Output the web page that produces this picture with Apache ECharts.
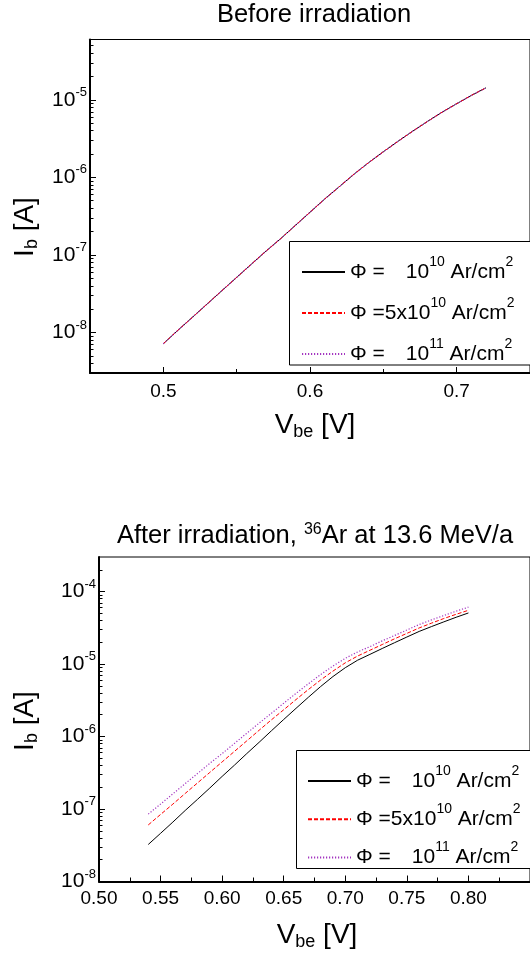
<!DOCTYPE html>
<html>
<head>
<meta charset="utf-8">
<script src="https://cdn.jsdelivr.net/npm/echarts@6/dist/echarts.min.js"></script>
<style>
  html, body { margin: 0; padding: 0; background: #fff; }
  #chart { width: 530px; height: 956px; }
</style>
</head>
<body>
<div id="chart"></div>
<script>
const FONT = 'Arial, "Liberation Sans", Helvetica, sans-serif';

// Base current I_b [A] versus V_be [V] before irradiation
const vbeBefore = [0.50, 0.51, 0.52, 0.53, 0.54, 0.55, 0.56, 0.57, 0.58, 0.59, 0.60, 0.61,
                   0.62, 0.63, 0.64, 0.65, 0.66, 0.67, 0.68, 0.69, 0.70, 0.71, 0.72];
const ibBefore1e10 = [7.16e-9, 1.07e-8, 1.58e-8, 2.34e-8, 3.47e-8, 5.13e-8, 7.59e-8, 1.12e-7,
                      1.62e-7, 2.40e-7, 3.55e-7, 5.25e-7, 7.59e-7, 1.10e-6, 1.55e-6, 2.14e-6,
                      2.92e-6, 3.94e-6, 5.25e-6, 6.92e-6, 8.91e-6, 1.14e-5, 1.43e-5];
const ibBefore5e10 = [7.16e-9, 1.07e-8, 1.58e-8, 2.34e-8, 3.47e-8, 5.13e-8, 7.59e-8, 1.12e-7,
                      1.62e-7, 2.40e-7, 3.55e-7, 5.25e-7, 7.59e-7, 1.10e-6, 1.55e-6, 2.14e-6,
                      2.92e-6, 3.94e-6, 5.25e-6, 6.92e-6, 8.91e-6, 1.14e-5, 1.43e-5];
const ibBefore1e11 = [7.16e-9, 1.07e-8, 1.58e-8, 2.34e-8, 3.47e-8, 5.13e-8, 7.59e-8, 1.12e-7,
                      1.62e-7, 2.40e-7, 3.55e-7, 5.25e-7, 7.59e-7, 1.10e-6, 1.55e-6, 2.14e-6,
                      2.92e-6, 3.94e-6, 5.25e-6, 6.92e-6, 8.91e-6, 1.14e-5, 1.43e-5];

// Base current after irradiation with 36Ar ions
const vbeAfter = [0.54, 0.55, 0.56, 0.57, 0.58, 0.59, 0.60, 0.61, 0.62, 0.63, 0.64, 0.65, 0.66,
                  0.67, 0.68, 0.69, 0.70, 0.71, 0.72, 0.73, 0.74, 0.75, 0.76, 0.77, 0.78, 0.79, 0.80];
const ibAfter1e10 = [3.24e-8, 4.62e-8, 6.61e-8, 9.55e-8, 1.36e-7, 1.95e-7, 2.82e-7, 4.03e-7,
                     5.82e-7, 8.32e-7, 1.20e-6, 1.72e-6, 2.45e-6, 3.48e-6, 4.90e-6, 6.73e-6,
                     8.91e-6, 1.13e-5, 1.36e-5, 1.64e-5, 1.97e-5, 2.36e-5, 2.82e-5, 3.29e-5,
                     3.82e-5, 4.42e-5, 5.07e-5];
const ibAfter5e10 = [6.03e-8, 8.41e-8, 1.17e-7, 1.64e-7, 2.29e-7, 3.20e-7, 4.47e-7, 6.24e-7,
                     8.71e-7, 1.22e-6, 1.70e-6, 2.34e-6, 3.24e-6, 4.45e-6, 6.03e-6, 8.00e-6,
                     1.04e-5, 1.29e-5, 1.55e-5, 1.86e-5, 2.23e-5, 2.65e-5, 3.15e-5, 3.67e-5,
                     4.25e-5, 4.86e-5, 5.52e-5];
const ibAfter1e11 = [8.51e-8, 1.17e-7, 1.62e-7, 2.24e-7, 3.09e-7, 4.27e-7, 5.82e-7, 8.04e-7,
                     1.11e-6, 1.53e-6, 2.09e-6, 2.88e-6, 3.94e-6, 5.35e-6, 7.16e-6, 9.40e-6,
                     1.20e-5, 1.47e-5, 1.74e-5, 2.09e-5, 2.48e-5, 2.95e-5, 3.51e-5, 4.07e-5,
                     4.68e-5, 5.37e-5, 6.10e-5];

// Fluence names (legend entries)
const fluenceNames = ['Φ = 1e10 Ar/cm2', 'Φ = 5e10 Ar/cm2', 'Φ = 1e11 Ar/cm2'];

// Axis tick values
const xTicksTop = [0.5, 0.6, 0.7];
const xMinorTop = [0.55, 0.65];
const yDecadesTop = [1e-8, 1e-7, 1e-6, 1e-5];
const yDecadesBottom = [1e-8, 1e-7, 1e-6, 1e-5, 1e-4];
const minorMultipliers = [2, 3, 4, 5, 6, 7, 8, 9];

const yRangeTop = [3e-9, 6e-5];
const yRangeBottom = [1e-8, 3e-4];

function minorLogTicks(range) {
  const out = [];
  for (let e = -10; e <= -3; e++) {
    minorMultipliers.forEach(m => {
      const v = m * Math.pow(10, e);
      if (v >= range[0] * 0.999 && v <= range[1] * 1.001) out.push(v);
    });
  }
  return out;
}

const zip = (xs, ys) => xs.map((x, i) => [x, ys[i]]);

const lineStyles = [
  { color: '#000000', width: 1, type: 'solid' },
  { color: '#ff0000', width: 1, type: [4, 2] },
  { color: '#a335c0', width: 1.2, type: [1.2, 1.8] }
];

const richLegend = {
  t: { fontSize: 21, fontFamily: FONT, color: '#000', lineHeight: 34 },
  g: { width: 21, lineHeight: 34 },
  s: { fontSize: 14, fontFamily: FONT, color: '#000', lineHeight: 12, verticalAlign: 'top' }
};
const legendText = {
  'Φ = 1e10 Ar/cm2': '{t|Φ =}{g| }{t|10}{s|10}{t| Ar/cm}{s|2}',
  'Φ = 5e10 Ar/cm2': '{t|Φ =5x10}{s|10}{t| Ar/cm}{s|2}',
  'Φ = 1e11 Ar/cm2': '{t|Φ =}{g| }{t|10}{s|11}{t| Ar/cm}{s|2}'
};

const richPow = {
  m: { fontSize: 21, fontFamily: FONT, color: '#000', lineHeight: 28 },
  e: { fontSize: 13, fontFamily: FONT, color: '#000', lineHeight: 12, verticalAlign: 'top' }
};
const powLabel = v => '{m|10}{e|' + Math.round(Math.log10(v)) + '}';

function majorY(grid, range, decades) {
  return {
    type: 'log', logBase: 10, gridIndex: grid, min: range[0], max: range[1], position: 'left',
    axisLine: { show: true, onZero: false, lineStyle: { color: '#000', width: 2 } },
    axisTick: { show: true, inside: true, length: 6, customValues: decades, lineStyle: { color: '#000', width: 1 } },
    axisLabel: { show: true, margin: 3, customValues: decades, formatter: powLabel, rich: richPow },
    splitLine: { show: false }, minorTick: { show: false }
  };
}
function minorY(grid, range) {
  return {
    type: 'log', logBase: 10, gridIndex: grid, min: range[0], max: range[1], position: 'left',
    axisLine: { show: false },
    axisTick: { show: true, inside: true, length: 3.5, customValues: minorLogTicks(range), lineStyle: { color: '#000', width: 1 } },
    axisLabel: { show: false }, splitLine: { show: false }
  };
}

const seriesTop = [ibBefore1e10, ibBefore5e10, ibBefore1e11].map((ys, i) => ({
  name: fluenceNames[i], type: 'line', xAxisIndex: 0, yAxisIndex: 0,
  data: zip(vbeBefore, ys), symbol: 'none', showSymbol: false, smooth: false,
  lineStyle: lineStyles[i], itemStyle: { color: lineStyles[i].color }
}));
const seriesBottom = [ibAfter1e10, ibAfter5e10, ibAfter1e11].map((ys, i) => ({
  name: fluenceNames[i], type: 'line', xAxisIndex: 2, yAxisIndex: 2,
  data: zip(vbeAfter, ys), symbol: 'none', showSymbol: false, smooth: false,
  lineStyle: lineStyles[i], itemStyle: { color: lineStyles[i].color }
}));

const subRich = {
  m: { fontSize: 28, fontFamily: FONT, color: '#000', lineHeight: 30, verticalAlign: 'top' },
  s: { fontSize: 18, fontFamily: FONT, color: '#000', lineHeight: 8, verticalAlign: 'bottom' }
};

const legendCommon = {
  data: fluenceNames, orient: 'vertical', padding: 0,
  itemWidth: 43, itemHeight: 14, selectedMode: false,
  itemStyle: { color: 'rgba(0,0,0,0)', borderColor: 'rgba(0,0,0,0)', borderWidth: 0, opacity: 0 },
  formatter: n => legendText[n], textStyle: { rich: richLegend }
};

const chart = echarts.init(document.getElementById('chart'), null, { renderer: 'canvas' });
chart.setOption({
  animation: false,
  backgroundColor: '#fff',
  textStyle: { fontFamily: FONT, color: '#000' },
  grid: [
    { left: 90, top: 39.5, width: 447, height: 333.5, show: true, borderColor: '#000', borderWidth: 1, containLabel: false },
    { left: 99, top: 557, width: 468, height: 324.5, show: true, borderColor: '#000', borderWidth: 1, containLabel: false }
  ],
  xAxis: [
    {
      type: 'value', gridIndex: 0, min: 0.45, max: 0.75, position: 'bottom',
      axisLine: { show: true, onZero: false, lineStyle: { color: '#000', width: 2 } },
      axisTick: { show: true, inside: true, length: 6, customValues: xTicksTop, lineStyle: { color: '#000', width: 1 } },
      axisLabel: { show: true, margin: 9, customValues: xTicksTop, fontSize: 19, fontFamily: FONT, color: '#000',
                   formatter: v => v.toFixed(1) },
      splitLine: { show: false }
    },
    {
      type: 'value', gridIndex: 0, min: 0.45, max: 0.75, position: 'bottom',
      axisLine: { show: false, onZero: false },
      axisTick: { show: true, inside: true, length: 4, customValues: xMinorTop, lineStyle: { color: '#000', width: 1 } },
      axisLabel: { show: false }, splitLine: { show: false }
    },
    {
      type: 'value', gridIndex: 1, min: 0.50, max: 0.85, interval: 0.05, position: 'bottom',
      axisLine: { show: true, onZero: false, lineStyle: { color: '#000', width: 2 } },
      axisTick: { show: true, inside: true, length: 6, lineStyle: { color: '#000', width: 1 } },
      minorTick: { show: true, splitNumber: 2, length: 4, lineStyle: { color: '#000', width: 1 } },
      axisLabel: { show: true, margin: 8, fontSize: 19, fontFamily: FONT, color: '#000',
                   formatter: v => v.toFixed(2), showMaxLabel: false },
      splitLine: { show: false }, minorSplitLine: { show: false }
    }
  ],
  yAxis: [
    majorY(0, yRangeTop, yDecadesTop),
    minorY(0, yRangeTop),
    majorY(1, yRangeBottom, yDecadesBottom),
    minorY(1, yRangeBottom)
  ],
  legend: [
    Object.assign({}, legendCommon, { left: 301, top: 255, itemGap: 13.5 }),
    Object.assign({}, legendCommon, { left: 307, top: 764, itemGap: 10.7 })
  ],
  graphic: [
    { type: 'rect', z: 1, shape: { x: 289.5, y: 241.5, width: 300, height: 123.5 },
      style: { fill: '#fff', stroke: '#000', lineWidth: 1 } },
    { type: 'rect', z: 1, shape: { x: 296.5, y: 750.5, width: 300, height: 118 },
      style: { fill: '#fff', stroke: '#000', lineWidth: 1 } },
    { type: 'text', x: 314, y: 15,
      style: { text: 'Before irradiation', font: '25.5px ' + FONT, fill: '#000', align: 'center', verticalAlign: 'middle' } },
    { type: 'text', x: 315, y: 536,
      style: { text: '{m|After irradiation, }{s|36}{m|Ar at 13.6 MeV/a}', align: 'center', verticalAlign: 'middle',
               rich: { m: { fontSize: 25.5, fontFamily: FONT, color: '#000', lineHeight: 28 },
                       s: { fontSize: 16, fontFamily: FONT, color: '#000', lineHeight: 10, verticalAlign: 'top' } } } },
    { type: 'text', x: 315, y: 426,
      style: { text: '{m|V}{s|be}{m| [V]}', align: 'center', verticalAlign: 'middle', rich: subRich } },
    { type: 'text', x: 317, y: 936,
      style: { text: '{m|V}{s|be}{m| [V]}', align: 'center', verticalAlign: 'middle', rich: subRich } },
    { type: 'text', x: 26, y: 227, rotation: Math.PI / 2,
      style: { text: '{m|I}{s|b}{m| [A]}', align: 'center', verticalAlign: 'middle', rich: subRich } },
    { type: 'text', x: 26, y: 721, rotation: Math.PI / 2,
      style: { text: '{m|I}{s|b}{m| [A]}', align: 'center', verticalAlign: 'middle', rich: subRich } }
  ],
  series: seriesTop.concat(seriesBottom)
});
</script>
</body>
</html>
